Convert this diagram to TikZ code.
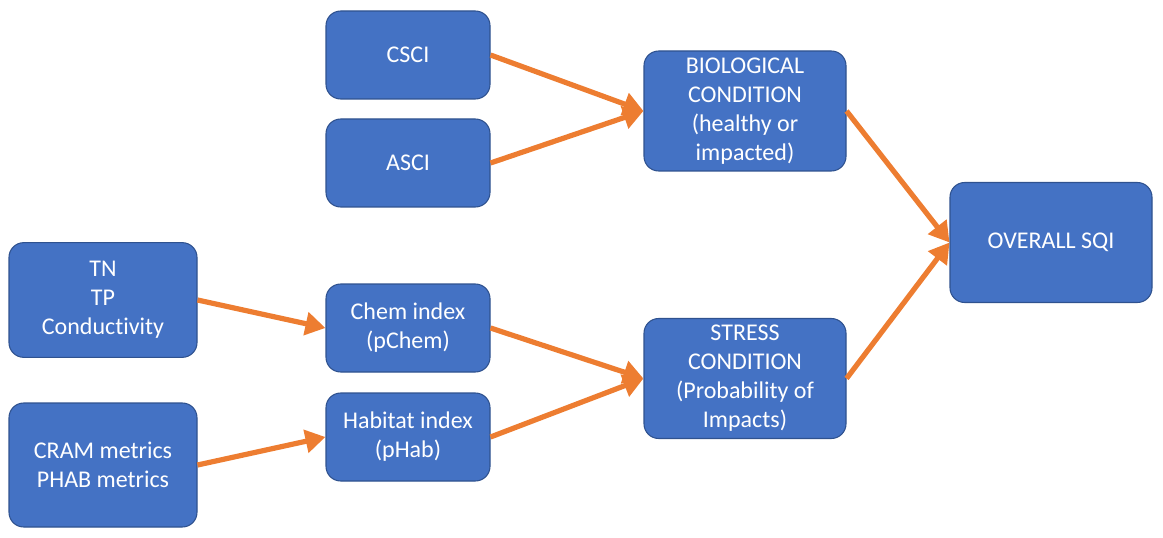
\documentclass[tikz,border=0pt]{standalone}
\usepackage{fontspec}
\setmainfont{Carlito}[RawFeature={-liga;-clig;-dlig}]
\usetikzlibrary{arrows.meta}
\definecolor{boxfill}{HTML}{4472C4}
\definecolor{boxline}{HTML}{2F528F}
\definecolor{arr}{HTML}{ED7D31}
\begin{document}
\begin{tikzpicture}[x=0.75pt,y=-0.75pt,
  box/.style={draw=boxline, line width=0.8pt, fill=boxfill, rounded corners=11pt,
    text=white, align=center, inner sep=2pt,
    font=\fontsize{18}{21.75}\selectfont},
  small/.style={box, minimum width=123pt, minimum height=66pt},
  mid/.style={box, minimum width=151.5pt, minimum height=90pt},
  left/.style={box, minimum width=141pt},
  link/.style={draw=arr, line width=3.9pt, -{Triangle[length=15pt,width=17pt]}}]
\useasboundingbox (0,0) rectangle (1163,538);
\node[small] (csci) at (408,55) {CSCI};
\node[small] (asci) at (408,163) {ASCI};
\node[mid] (bio) at (745,111) {BIOLOGICAL\\CONDITION\\(healthy or\\impacted)};
\node[mid] (sqi) at (1051,242.5) {OVERALL SQI};
\node[left, minimum height=86pt] (tn) at (103,300) {TN\\TP\\Conduc\kern0pt tivity};
\node[left, minimum height=93pt] (cram) at (103,465) {CRAM metrics\\PHAB metrics};
\node[small] (chem) at (408,328) {Chem index\\(pChem)};
\node[small] (hab) at (408,437) {Habitat index\\(pHab)};
\node[mid] (stress) at (745,378.5) {STRESS\\CONDITION\\(Probability of\\Impacts)};
\draw[link] (csci.east) -- (bio.west);
\draw[link] (asci.east) -- (bio.west);
\draw[link] (bio.east) -- (sqi.west);
\draw[link] (stress.east) -- (sqi.west);
\draw[link] (tn.east) -- (chem.west);
\draw[link] (cram.east) -- (hab.west);
\draw[link] (chem.east) -- (stress.west);
\draw[link] (hab.east) -- (stress.west);
\end{tikzpicture}
\end{document}
